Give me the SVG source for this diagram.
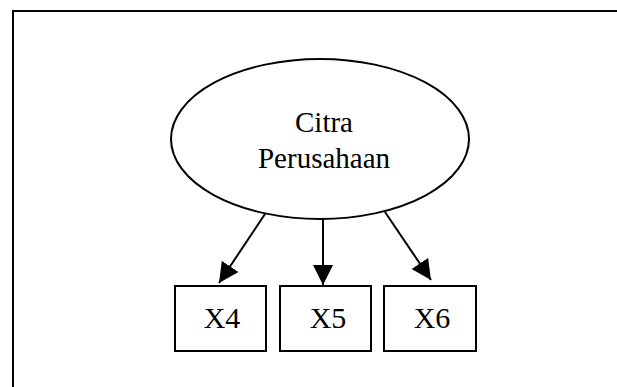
<svg xmlns="http://www.w3.org/2000/svg" width="617" height="387" viewBox="0 0 617 387">
<style>
.frame{fill:none;stroke:#000;stroke-width:2}
.node{fill:#fff;stroke:#000;stroke-width:2}
.lbl{font-family:"Liberation Serif","Times New Roman",serif;font-size:29px;fill:#000;text-anchor:middle}
.box{font-size:30px}
.edge{stroke:#000;stroke-width:2;fill:none}
</style>
<defs>
<marker id="ah" viewBox="0 0 20 20" refX="20" refY="10" markerWidth="20" markerHeight="20" markerUnits="userSpaceOnUse" orient="auto">
<path d="M0,0 L20,10 L0,20 Z" fill="#000"/>
</marker>
</defs>
<rect width="617" height="387" fill="#fff"/>
<path class="frame" d="M13,387 L13,11 L617,11"/>
<g id="connectors">
<line class="edge" x1="265" y1="214" x2="219" y2="283" marker-end="url(#ah)"/>
<line class="edge" x1="323" y1="218" x2="323" y2="285" stroke-width="1.5" marker-end="url(#ah)"/>
<line class="edge" x1="385" y1="212" x2="431" y2="280" marker-end="url(#ah)"/>
</g>
<g id="citra">
<ellipse class="node" cx="320" cy="139" rx="149" ry="80" stroke-width="1.5"/>
<text class="lbl" x="324" y="132">Citra</text>
<text class="lbl" x="324" y="168">Perusahaan</text>
</g>
<g id="x4">
<rect class="node" x="175" y="286" width="91" height="65"/>
<text class="lbl box" x="222" y="328">X4</text>
</g>
<g id="x5">
<rect class="node" x="280" y="286" width="91" height="65"/>
<text class="lbl box" x="328" y="328">X5</text>
</g>
<g id="x6">
<rect class="node" x="384" y="286" width="92" height="65"/>
<text class="lbl box" x="432" y="328">X6</text>
</g>
</svg>
